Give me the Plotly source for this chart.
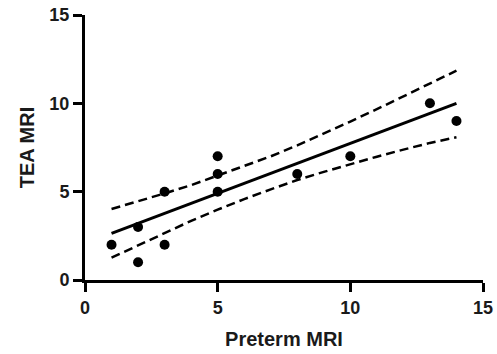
import plotly.graph_objects as go

# Data points
preterm_mri = [1, 2, 2, 3, 3, 5, 5, 5, 8, 10, 13, 14]
tea_mri = [2, 1, 3, 2, 5, 5, 6, 7, 6, 7, 10, 9]

# Regression line
fit_x = [1, 14]
fit_y = [2.64, 10.0]

# 95% confidence band
band_x = [1, 2, 3, 4, 5, 6, 7, 8, 9, 10, 11, 12, 13, 14]
band_upper = [4.02, 4.45, 4.90, 5.37, 5.90, 6.43, 7.00, 7.62, 8.28, 8.97, 9.67, 10.40, 11.12, 11.85]
band_lower = [1.26, 1.97, 2.68, 3.35, 3.98, 4.58, 5.13, 5.66, 6.12, 6.56, 6.98, 7.38, 7.76, 8.08]

x_ticks = [0, 5, 10, 15]
y_ticks = [0, 5, 10, 15]

fig = go.Figure()
dash = "9px,5px"
fig.add_trace(go.Scatter(x=band_x, y=band_upper, mode="lines",
                         line=dict(color="black", width=2.5, dash=dash), showlegend=False))
fig.add_trace(go.Scatter(x=band_x, y=band_lower, mode="lines",
                         line=dict(color="black", width=2.5, dash=dash), showlegend=False))
fig.add_trace(go.Scatter(x=fit_x, y=fit_y, mode="lines",
                         line=dict(color="black", width=3), showlegend=False))
fig.add_trace(go.Scatter(x=preterm_mri, y=tea_mri, mode="markers",
                         marker=dict(color="black", size=10), showlegend=False))

font_family = "Liberation Sans, Arial, sans-serif"
axis_common = dict(
    showgrid=False, zeroline=False, showline=True, linecolor="black", linewidth=3,
    ticks="outside", ticklen=9, tickwidth=3, tickcolor="black", automargin=False,
    tickfont=dict(family=font_family, size=18, color="#1a1a1a", weight="bold"),
)
fig.update_xaxes(range=[0, 15], tickvals=x_ticks, **axis_common,
                 title=dict(text="Preterm MRI", standoff=16,
                            font=dict(family=font_family, size=20, color="#1a1a1a", weight="bold")))
fig.update_yaxes(range=[0, 15], tickvals=y_ticks, **axis_common,
                 title=dict(text="TEA MRI", standoff=10,
                            font=dict(family=font_family, size=20, color="#1a1a1a", weight="bold")))

fig.update_layout(
    width=497, height=354,
    margin=dict(l=85, r=14, t=15, b=74),
    plot_bgcolor="white", paper_bgcolor="white",
)

fig.write_html("out.html", config={"displayModeBar": False},
               post_script="document.body.style.margin='0';")
